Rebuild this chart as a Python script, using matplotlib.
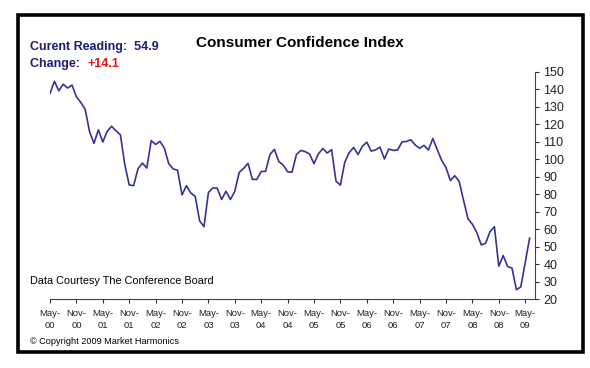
import matplotlib
matplotlib.use('Agg')
import matplotlib.pyplot as plt
from matplotlib.patches import Rectangle
import numpy as np

# monthly readings, Apr 2000 .. May 2009
readings = [
    137.7, 144.7, 139.2, 143.0, 140.8, 142.5, 135.8, 132.6, 128.6,                # 2000
    115.7, 109.2, 116.9, 109.9, 116.1, 118.9, 116.3, 114.0, 97.0, 85.3, 84.9, 94.6,  # 2001
    97.8, 95.0, 110.7, 108.5, 110.3, 106.3, 97.4, 94.5, 93.7, 79.6, 84.9, 80.7,      # 2002
    78.8, 64.8, 61.4, 81.0, 83.6, 83.5, 77.0, 81.7, 77.0, 81.7, 92.5, 94.8,          # 2003
    97.7, 88.5, 88.5, 93.0, 93.1, 102.8, 105.7, 98.7, 96.7, 92.9, 92.6, 102.7,       # 2004
    105.1, 104.4, 103.0, 97.5, 103.1, 106.2, 103.6, 105.5, 87.5, 85.2, 98.3, 103.8,  # 2005
    106.8, 102.7, 107.5, 109.8, 104.7, 105.4, 107.0, 100.2, 105.9, 105.1, 105.3, 110.0,  # 2006
    110.2, 111.2, 108.2, 106.3, 108.0, 105.3, 111.9, 105.6, 99.5, 95.2, 87.8, 90.6,  # 2007
    87.3, 76.4, 65.9, 62.8, 58.1, 51.0, 51.9, 58.5, 61.4, 38.8, 44.9, 38.6,          # 2008
    37.7, 25.3, 26.9, 40.8, 54.9,                                                    # 2009
]
tick_labels = ['May-\n00', 'Nov-\n00', 'May-\n01', 'Nov-\n01', 'May-\n02', 'Nov-\n02',
               'May-\n03', 'Nov-\n03', 'May-\n04', 'Nov-\n04', 'May-\n05', 'Nov-\n05',
               'May-\n06', 'Nov-\n06', 'May-\n07', 'Nov-\n07', 'May-\n08', 'Nov-\n08',
               'May-\n09']
y_ticks = list(range(20, 151, 10))
current_reading = '54.9'
change = '+14.1'

plt.rcParams['font.family'] = ['Liberation Sans', 'DejaVu Sans']

W, H = 590, 368
fig = plt.figure(figsize=(W / 100, H / 100), dpi=100)

# outer frame
fig.patches.append(Rectangle((18 / W, 1 - 352 / H), (583 - 18) / W, (352 - 15) / H,
                             transform=fig.transFigure, fill=False,
                             edgecolor='black', linewidth=2.6))

ax = fig.add_axes([50 / W, 1 - 299 / H, 485 / W, 227 / H])
x = np.arange(len(readings))
ax.plot(x, readings, color='#33339a', linewidth=1.2)

ax.set_xlim(0, 485 / 4.4)
ax.set_ylim(20, 150)
ax.set_xticks(np.arange(len(tick_labels)) * 6)
ax.set_xticklabels(tick_labels, fontsize=6.8, linespacing=1.5)
ax.set_yticks(y_ticks)
ax.yaxis.tick_right()
ax.tick_params(axis='y', labelsize=9, direction='out', length=3, pad=3,
               colors='#333333', labelcolor='#222222')
ax.tick_params(axis='x', direction='out', length=3, pad=4,
               colors='#333333', labelcolor='#222222')
for side in ['left', 'top']:
    ax.spines[side].set_visible(False)
for side in ['right', 'bottom']:
    ax.spines[side].set_color('#444444')
    ax.spines[side].set_linewidth(0.8)

fig.text(300 / W, 1 - 43 / H, 'Consumer Confidence Index', ha='center', va='center',
         fontsize=11, fontweight='bold')
fig.text(30 / W, 1 - 47 / H, 'Curent Reading:  ' + current_reading, ha='left', va='center',
         fontsize=9, fontweight='bold', color='#1c1c7a')
t = fig.text(30 / W, 1 - 64 / H, 'Change:  ', ha='left', va='center',
             fontsize=9, fontweight='bold', color='#1c1c7a')
fig.canvas.draw()
bb = t.get_window_extent()
fig.text(bb.x1 / W, 1 - 64 / H, change, ha='left', va='center',
         fontsize=9, fontweight='bold', color='#ee1111')
fig.text(30 / W, 1 - 281 / H, 'Data Courtesy The Conference Board', ha='left', va='center',
         fontsize=7.8)
fig.text(30 / W, 1 - 342 / H, '\u00a9 Copyright 2009 Market Harmonics', ha='left', va='center',
         fontsize=6.6)

fig.savefig('out.png', dpi=100)
